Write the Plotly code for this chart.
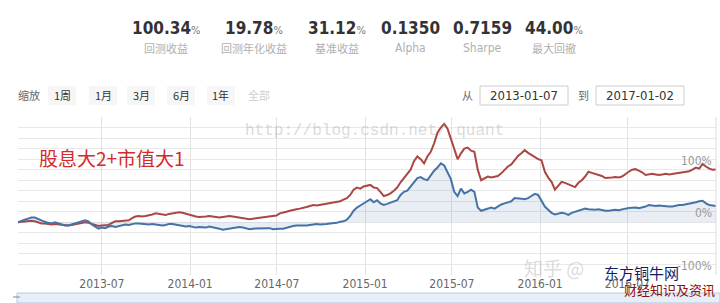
import pandas as pd
import plotly.graph_objects as go

# ---------------- data ----------------
start_date = "2013-01-07"
n_weeks = 209  # weekly points, 2013-01-07 .. 2017-01-02

strategy_pct = [
    # 2013
    0, 1, 2, 3,
    3, 2, 0, -2,
    -2, -3, -4, -3,
    -4, -5, -6, -6, -5,
    -4, -3, -1, 0,
    -1, -3, -5, -7,
    -6, -6, -5, -1, 2,
    2, 3, 4, 4,
    8, 11, 12, 11, 12,
    13, 15, 17, 16,
    15, 14, 16, 17,
    18, 19, 18, 16, 15,
    # 2014
    13, 11, 10, 10,
    11, 12, 11, 10,
    9, 10, 11, 12, 11,
    10, 9, 8, 7,
    6, 7, 8, 8,
    9, 10, 11, 12, 13,
    17, 18, 20, 22,
    24, 25, 26, 27,
    29, 31, 33, 32, 33,
    34, 35, 36, 37,
    38, 40, 43, 46,
    52, 62, 66, 64, 68,
    # 2015
    70, 71, 66, 65,
    58, 50, 52, 55,
    60, 66, 76, 84, 90,
    100, 116, 125, 120,
    112, 125, 134, 150,
    170, 180, 187, 178, 160,
    140, 120, 131, 140,
    142, 136, 134, 100, 80,
    84, 87, 85, 86,
    88, 93, 100, 106,
    110, 118, 126, 131, 137,
    132, 128, 124, 120,
    # 2016
    118, 96, 85, 77,
    62, 70, 77, 75, 72,
    70, 67, 75, 80,
    87, 96, 94, 92,
    90, 88, 84, 84, 85,
    86, 85, 87, 92,
    96, 100, 101, 98,
    95, 90, 91, 92, 91,
    90, 91, 92, 91,
    92, 93, 94, 95, 96,
    97, 100, 104, 102,
    111, 106, 102, 100,
    100.34,
]

benchmark_pct = [
    # 2013
    0, 3, 5, 7,
    9, 9, 6, 3,
    1, -1, -2, 0,
    -2, -4, -6, -6, -4,
    -2, 0, 3, 4,
    2, -4, -8, -12,
    -10, -11, -8, -7, -9,
    -7, -5, -4, -5,
    -3, -2, -2, -3, -4,
    -4, -3, -4, -5,
    -6, -5, -3, -3,
    -4, -6, -7, -8, -7,
    # 2014
    -9, -10, -9, -9,
    -10, -8, -9, -10,
    -12, -14, -13, -12, -11,
    -10, -9, -10, -12,
    -13, -12, -12, -12,
    -12, -12, -11, -13, -12,
    -12, -12, -10, -8,
    -7, -6, -6, -7,
    -6, -5, -4, -3, -4,
    -4, -3, -2, -2,
    -1, 1, 2, 5,
    12, 22, 28, 32, 36,
    # 2015
    40, 44, 38, 42,
    36, 33, 35, 37,
    39, 42, 52, 58, 60,
    68, 78, 84, 86,
    82, 80, 90, 98,
    104, 112, 108, 95, 82,
    58, 50, 64, 55,
    58, 62, 58, 28, 22,
    24, 26, 28, 26,
    30, 34, 36, 38,
    40, 46, 46, 45, 44,
    46, 50, 54, 52,
    # 2016
    42, 30, 24, 18,
    15, 16, 18, 17, 14,
    18, 20, 22, 23,
    26, 25, 24, 24,
    25, 23, 22, 22, 23,
    24, 23, 25, 26,
    27, 28, 28, 27,
    28, 30, 33, 32, 31,
    32, 31, 30, 30,
    30, 32, 33, 33, 34,
    35, 36, 38, 40,
    41, 36, 33, 32,
    31.12,
]

x_tick_vals = ["2013-07-01", "2014-01-01", "2014-07-01", "2015-01-01",
               "2015-07-01", "2016-01-01", "2016-07-01"]
x_tick_text = ["2013-07", "2014-01", "2014-07", "2015-01",
               "2015-07", "2016-01", "2016-07"]
y_label_vals = [100, 0, -100]
y_label_text = ["100%", "0%", "-100%"]

stat_values = ["100.34", "19.78", "31.12", "0.1350", "0.7159", "44.00"]
stat_suffix = ["%", "%", "%", "", "", "%"]
stat_labels = ["回测收益", "回测年化收益", "基准收益", "Alpha", "Sharpe", "最大回撤"]

zoom_buttons = ["1周", "1月", "3月", "6月", "1年", "全部"]
date_from = "2013-01-07"
date_to = "2017-01-02"
title_text = "股息大2+市值大1"

dates = pd.date_range(start_date, periods=n_weeks, freq="7D")

# ---------------- geometry helpers (pixels -> paper) ----------------
W, H = 720, 303
L, R, T, B = 18, 4, 117, 28
PW, PH = W - L - R, H - T - B


def px(x):
    return (x - L) / PW


def py(y):
    return (H - B - y) / PH


NARROW = "Liberation Sans Narrow, Arial Narrow, DejaVu Sans Condensed, sans-serif"
CJK = "Noto Sans CJK SC, sans-serif"

fig = go.Figure()
fig.add_trace(go.Scatter(
    x=dates, y=strategy_pct, mode="lines",
    line=dict(color="#AA4643", width=2), name="策略", hoverinfo="skip"))
fig.add_trace(go.Scatter(
    x=dates, y=benchmark_pct, mode="lines", fill="tozeroy",
    fillcolor="rgba(69,114,167,0.12)",
    line=dict(color="#4572A7", width=2), name="基准", hoverinfo="skip"))

ann = []
shapes = []

# stats row
stat_x = [166, 254, 337, 410, 482, 554]
for xc, v, s, lab in zip(stat_x, stat_values, stat_suffix, stat_labels):
    txt = f"<b>{v}</b>"
    if s:
        txt += f"<span style='font-size:11px;color:#777'>{s}</span>"
    ann.append(dict(x=px(xc), y=py(28), xref="paper", yref="paper", text=txt,
                    showarrow=False, xanchor="center", yanchor="middle",
                    font=dict(family=NARROW, size=17, color="#333")))
    is_latin = lab in ("Alpha", "Sharpe")
    ann.append(dict(x=px(xc), y=py(48), xref="paper", yref="paper", text=lab,
                    showarrow=False, xanchor="center", yanchor="middle",
                    font=dict(family=NARROW if is_latin else CJK,
                              size=12 if is_latin else 11,
                              color="#b0b0b0")))

# zoom row
ann.append(dict(x=px(29), y=py(95), xref="paper", yref="paper", text="缩放",
                showarrow=False, xanchor="center", yanchor="middle",
                font=dict(family=CJK, size=11, color="#666")))
btn_x = [62, 103, 141, 181, 221, 259]
for i, (bx, b) in enumerate(zip(btn_x, zoom_buttons)):
    if i < 5:
        shapes.append(dict(type="rect", xref="paper", yref="paper",
                           x0=px(bx - 14), x1=px(bx + 14), y0=py(105), y1=py(86),
                           fillcolor="#f6f6f6", line=dict(width=0), layer="below"))
    ann.append(dict(x=px(bx), y=py(95), xref="paper", yref="paper", text=b,
                    showarrow=False, xanchor="center", yanchor="middle",
                    font=dict(family=CJK, size=11, color="#333" if i < 5 else "#cfcfcf")))

# date inputs
ann.append(dict(x=px(467), y=py(95), xref="paper", yref="paper", text="从",
                showarrow=False, xanchor="center", yanchor="middle",
                font=dict(family=CJK, size=11, color="#666")))
ann.append(dict(x=px(583), y=py(95), xref="paper", yref="paper", text="到",
                showarrow=False, xanchor="center", yanchor="middle",
                font=dict(family=CJK, size=11, color="#666")))
for (x0, x1, t) in [(480, 568, date_from), (596, 684, date_to)]:
    shapes.append(dict(type="rect", xref="paper", yref="paper",
                       x0=px(x0), x1=px(x1), y0=py(105), y1=py(86),
                       fillcolor="white", line=dict(color="#cccccc", width=1)))
    ann.append(dict(x=px((x0 + x1) / 2), y=py(95.5), xref="paper", yref="paper", text=t,
                    showarrow=False, xanchor="center", yanchor="middle",
                    font=dict(family=NARROW, size=13, color="#333")))

# y labels (inside, right)
for v, t in zip(y_label_vals, y_label_text):
    ann.append(dict(x=px(714), y=v, xref="paper", yref="y", text=t,
                    showarrow=False, xanchor="right", yanchor="bottom", yshift=0,
                    font=dict(family=NARROW, size=12, color="#999")))

# title inside plot
ann.append(dict(x=px(37), y=py(157), xref="paper", yref="paper", text=title_text,
                showarrow=False, xanchor="left", yanchor="middle",
                font=dict(family=CJK, size=19, color="#d42b2b")))

# watermarks
ann.append(dict(x=px(243), y=py(131), xref="paper", yref="paper",
                text="http://blog.csdn.net/ quant",
                showarrow=False, xanchor="left", yanchor="middle",
                font=dict(family="Liberation Mono, monospace", size=16,
                          color="rgba(160,160,160,0.4)")))
ann.append(dict(x=px(522), y=py(267), xref="paper", yref="paper",
                text="知乎 @",
                showarrow=False, xanchor="left", yanchor="middle",
                font=dict(family=CJK, size=19, color="rgba(190,190,190,0.55)")))
ann.append(dict(x=px(641), y=py(272), xref="paper", yref="paper",
                text="东方铜牛网",
                showarrow=False, xanchor="center", yanchor="middle",
                font=dict(family=CJK, size=15, color="#101c6b")))
ann.append(dict(x=px(669), y=py(289), xref="paper", yref="paper",
                text="财经知识及资讯",
                showarrow=False, xanchor="center", yanchor="middle",
                font=dict(family=CJK, size=13, color="#8b1010")))

# right border line and navigator strip
shapes.append(dict(type="line", xref="paper", yref="paper", x0=1, x1=1, y0=0, y1=1,
                   line=dict(color="#dddddd", width=1)))
shapes.append(dict(type="rect", xref="paper", yref="paper",
                   x0=px(17), x1=px(720), y0=py(303), y1=py(293),
                   fillcolor="#e6eef8", line=dict(color="#b9c9df", width=1)))
shapes.append(dict(type="line", xref="paper", yref="paper",
                   x0=px(13), x1=px(20), y0=py(297), y1=py(297),
                   line=dict(color="#888888", width=1)))

fig.update_layout(
    width=W, height=H,
    margin=dict(l=L, r=R, t=T, b=B, pad=0),
    paper_bgcolor="white", plot_bgcolor="white",
    showlegend=False,
    annotations=ann, shapes=shapes,
    xaxis=dict(type="date", range=[start_date, "2017-01-02"],
               tickvals=x_tick_vals, ticktext=x_tick_text,
               showgrid=True, gridcolor="#e2e2e2", gridwidth=1,
               zeroline=False, showline=False, ticks="",
               tickfont=dict(family=NARROW, size=12, color="#666")),
    yaxis=dict(range=[-100, 200], tick0=0, dtick=20,
               showgrid=True, gridcolor="#e8e8e8", gridwidth=1,
               zeroline=False, showline=False, showticklabels=False, ticks=""),
)

fig.write_html("out.html", config={"displayModeBar": False})
